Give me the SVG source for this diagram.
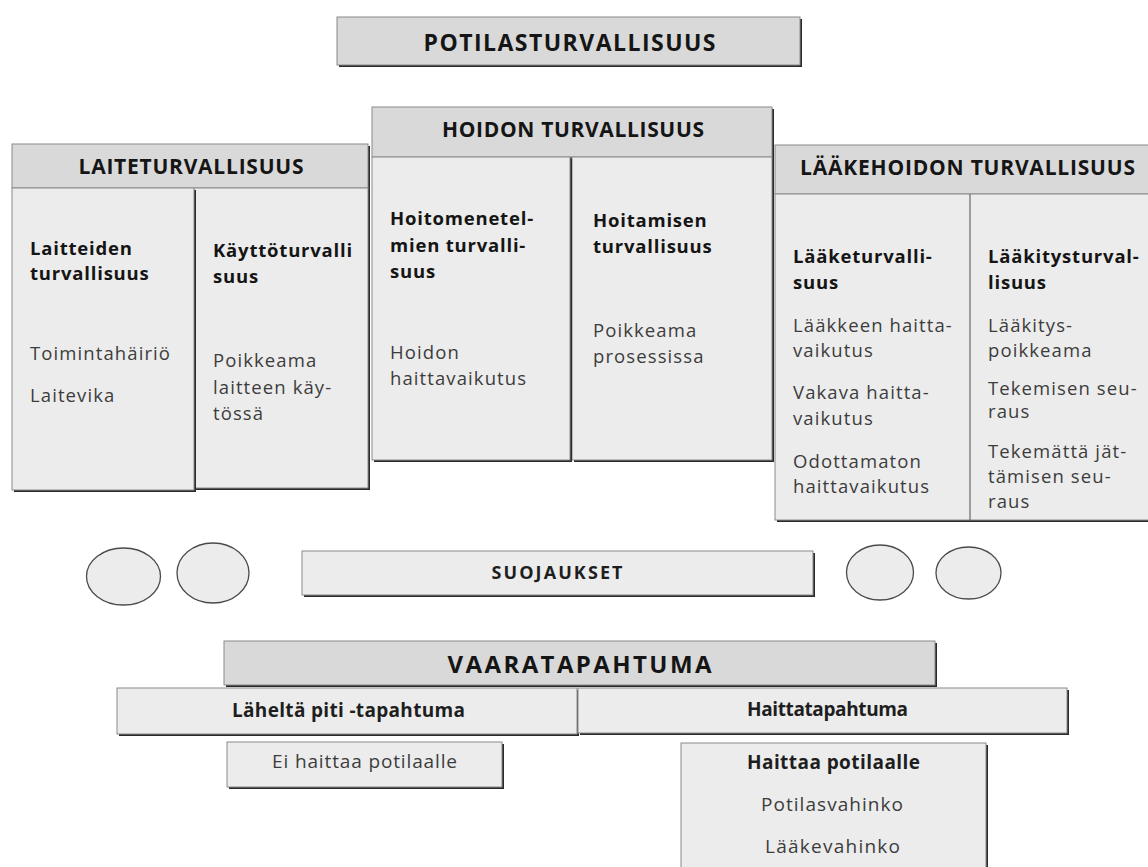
<svg xmlns="http://www.w3.org/2000/svg" width="1148" height="867" viewBox="0 0 1148 867">
<style>
.sh{fill:#2a2a2a}
.hd{fill:#d9d9d9;stroke:#8a8a8a;stroke-width:1}
.bd{fill:#ececec;stroke:#8a8a8a;stroke-width:1}
.ov{fill:#ececec;stroke:#4a4a4a;stroke-width:1.3}
text{font-family:"Open Sans","Liberation Sans",sans-serif}
.h{font-weight:bold;font-size:21px;fill:#151515;text-anchor:middle}
.t{font-weight:bold;font-size:23px;fill:#151515;text-anchor:middle}
.b{font-weight:bold;font-size:18.5px;fill:#151515;letter-spacing:0.8px}
.r{font-size:18.5px;fill:#3c3c3c;letter-spacing:1.1px}
.cb{font-weight:bold;font-size:19px;fill:#1e1e1e;text-anchor:middle}
.cr{font-size:19px;fill:#3c3c3c;text-anchor:middle}
</style>
<rect width="1148" height="867" fill="#ffffff"/>

<g id="potilasturvallisuus">
<rect class="sh" x="339" y="19" width="463" height="48"/>
<rect class="hd" x="337" y="17" width="463" height="48"/>
<text class="t" x="569.5" y="51" textLength="292" lengthAdjust="spacing">POTILASTURVALLISUUS</text>
</g>

<g id="laiteturvallisuus">
<rect class="sh" x="14" y="146" width="356" height="44"/>
<rect class="hd" x="12" y="144" width="356" height="44"/>
<text class="h" x="191" y="174" textLength="225" lengthAdjust="spacing">LAITETURVALLISUUS</text>
<rect class="sh" x="196" y="190" width="174" height="300"/>
<rect class="bd" x="194" y="188" width="174" height="300"/>
<rect class="sh" x="14" y="190" width="182" height="302"/>
<rect class="bd" x="12" y="188" width="182" height="302"/>
<text class="b" x="30" y="255">Laitteiden</text>
<text class="b" x="30" y="280">turvallisuus</text>
<text class="r" x="30" y="360">Toimintahäiriö</text>
<text class="r" x="30" y="402">Laitevika</text>
<text class="b" x="213" y="257">Käyttöturvalli</text>
<text class="b" x="213" y="283">suus</text>
<text class="r" x="213" y="367">Poikkeama</text>
<text class="r" x="213" y="394">laitteen käy-</text>
<text class="r" x="213" y="420">tössä</text>
</g>

<g id="laakehoidon-turvallisuus">
<rect class="sh" x="777" y="147" width="380" height="49"/>
<rect class="hd" x="775" y="145" width="380" height="49"/>
<text class="h" x="967.5" y="175" textLength="335" lengthAdjust="spacing">LÄÄKEHOIDON TURVALLISUUS</text>
<rect class="sh" x="777" y="196" width="380" height="326"/>
<rect class="bd" x="775" y="194" width="380" height="326"/>
<line x1="970" y1="194" x2="970" y2="520" stroke="#6a6a6a" stroke-width="1.2"/>
<text class="b" x="793" y="263">Lääketurvalli-</text>
<text class="b" x="793" y="289">suus</text>
<text class="r" x="793" y="332">Lääkkeen haitta-</text>
<text class="r" x="793" y="357">vaikutus</text>
<text class="r" x="793" y="399">Vakava haitta-</text>
<text class="r" x="793" y="425">vaikutus</text>
<text class="r" x="793" y="468">Odottamaton</text>
<text class="r" x="793" y="493">haittavaikutus</text>
<text class="b" x="988" y="263">Lääkitysturval-</text>
<text class="b" x="988" y="289">lisuus</text>
<text class="r" x="988" y="332">Lääkitys-</text>
<text class="r" x="988" y="357">poikkeama</text>
<text class="r" x="988" y="395">Tekemisen seu-</text>
<text class="r" x="988" y="418">raus</text>
<text class="r" x="988" y="458">Tekemättä jät-</text>
<text class="r" x="988" y="483">tämisen seu-</text>
<text class="r" x="988" y="508">raus</text>
</g>

<g id="hoidon-turvallisuus">
<rect class="sh" x="374" y="109" width="400" height="50"/>
<rect class="hd" x="372" y="107" width="400" height="50"/>
<text class="h" x="573" y="137" textLength="262" lengthAdjust="spacing">HOIDON TURVALLISUUS</text>
<rect class="sh" x="574" y="159" width="200" height="303"/>
<rect class="bd" x="572" y="157" width="200" height="303"/>
<rect class="sh" x="374" y="159" width="198" height="303"/>
<rect class="bd" x="372" y="157" width="198" height="303"/>
<text class="b" x="390" y="225">Hoitomenetel-</text>
<text class="b" x="390" y="252">mien turvalli-</text>
<text class="b" x="390" y="278">suus</text>
<text class="r" x="390" y="359">Hoidon</text>
<text class="r" x="390" y="385">haittavaikutus</text>
<text class="b" x="593" y="227">Hoitamisen</text>
<text class="b" x="593" y="253">turvallisuus</text>
<text class="r" x="593" y="337">Poikkeama</text>
<text class="r" x="593" y="363">prosessissa</text>
</g>

<g id="suojaukset">
<ellipse class="ov" cx="123.5" cy="576.5" rx="37" ry="28.5"/>
<ellipse class="ov" cx="213" cy="573" rx="36" ry="30"/>
<rect class="sh" x="304" y="553" width="511" height="44"/>
<rect class="bd" x="302" y="551" width="511" height="44"/>
<text class="cb" x="557" y="579" textLength="131" lengthAdjust="spacing" style="font-size:18px">SUOJAUKSET</text>
<ellipse class="ov" cx="880" cy="572.5" rx="33.5" ry="27.5"/>
<ellipse class="ov" cx="968.5" cy="573" rx="32.5" ry="26"/>
</g>

<g id="vaaratapahtuma">
<rect class="sh" x="226" y="643" width="711" height="44"/>
<rect class="hd" x="224" y="641" width="711" height="44"/>
<text class="t" x="579.5" y="673" textLength="264" lengthAdjust="spacing" style="font-size:24px">VAARATAPAHTUMA</text>
</g>

<g id="lahelta-piti">
<rect class="sh" x="119" y="690" width="460" height="46"/>
<rect class="bd" x="117" y="688" width="460" height="46"/>
<text class="cb" x="348.5" y="717" textLength="233" lengthAdjust="spacing">Läheltä piti -tapahtuma</text>
</g>

<g id="haittatapahtuma">
<rect class="sh" x="580" y="690" width="489" height="45"/>
<rect class="bd" x="578" y="688" width="489" height="45"/>
<text class="cb" x="827.5" y="716" textLength="161" lengthAdjust="spacing">Haittatapahtuma</text>
</g>

<g id="ei-haittaa">
<rect class="sh" x="229" y="744" width="275" height="45"/>
<rect class="bd" x="227" y="742" width="275" height="45"/>
<text class="cr" x="364.5" y="768" textLength="185" lengthAdjust="spacing">Ei haittaa potilaalle</text>
</g>

<g id="haittaa-potilaalle">
<rect class="sh" x="683" y="745" width="305" height="140"/>
<rect class="bd" x="681" y="743" width="305" height="140"/>
<text class="cb" x="833.5" y="769" textLength="173" lengthAdjust="spacing">Haittaa potilaalle</text>
<text class="cr" x="832" y="811" textLength="142" lengthAdjust="spacing">Potilasvahinko</text>
<text class="cr" x="832.5" y="853" textLength="135" lengthAdjust="spacing">Lääkevahinko</text>
</g>
</svg>
